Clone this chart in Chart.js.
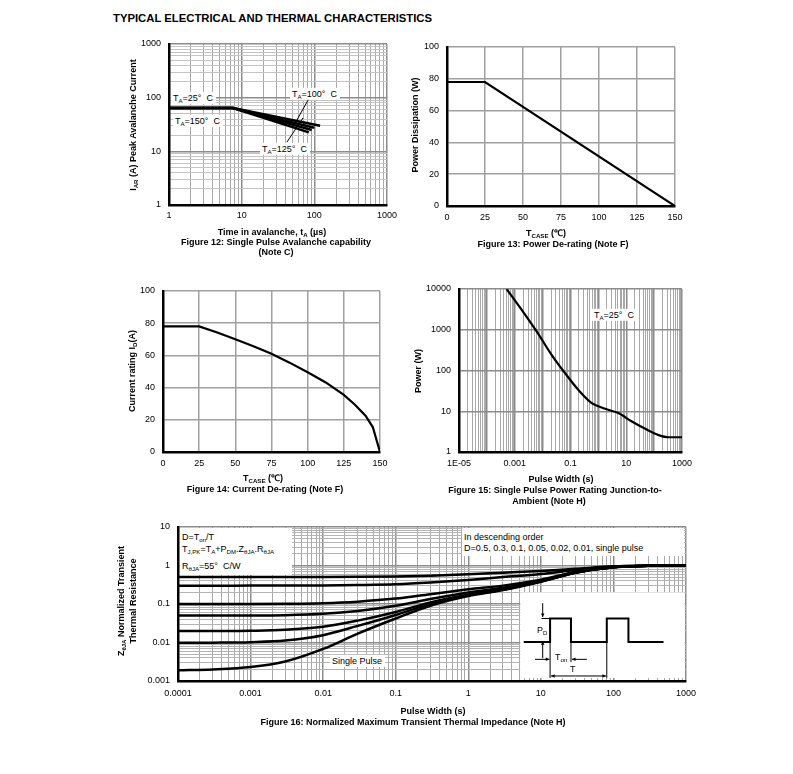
<!DOCTYPE html>
<html><head><meta charset="utf-8">
<script src="https://cdn.jsdelivr.net/npm/chart.js@4"></script>
<style>
html,body{margin:0;padding:0;background:#fff;}
body{width:793px;height:774px;position:relative;overflow:hidden;font-family:"Liberation Sans",Arial,sans-serif;color:#000;}
canvas{position:absolute;}
.tx{position:absolute;white-space:nowrap;line-height:1.15;}
.bx{position:absolute;background:#fff;}
sub{font-size:0.68em;vertical-align:-0.3em;line-height:0;}
</style></head><body>
<script>
// ---------------- DATA ----------------
// Figure 12: Single Pulse Avalanche capability
const avTime25 = [1, 7.6, 120];
const avCur25 = [64, 64, 30];
const avTime100 = [1, 7.6, 100];
const avCur100 = [64, 64, 27.5];
const avTime125 = [1, 7.6, 92];
const avCur125 = [64, 64, 25];
const avTime150 = [1, 7.6, 84];
const avCur150 = [64, 64, 22.5];
const avXTicks = [1, 10, 100, 1000];
const avXLabels = ['1', '10', '100', '1000'];
const avYTicks = [1, 10, 100, 1000];
const avYLabels = ['1', '10', '100', '1000'];

// Figure 13: Power De-rating
const pdTemp = [0, 25, 150];
const pdPower = [78, 78, 0];
const pdXTicks = [0, 25, 50, 75, 100, 125, 150];
const pdXLabels = ['0', '25', '50', '75', '100', '125', '150'];
const pdYTicks = [0, 20, 40, 60, 80, 100];
const pdYLabels = ['0', '20', '40', '60', '80', '100'];

// Figure 14: Current De-rating
const idTemp = [0, 25, 37.5, 50, 62.5, 75, 87.5, 100, 112.5, 125, 132.5, 140, 145, 150];
const idCurrent = [78, 78, 74.2, 70, 65.7, 61, 55.5, 49.5, 43.2, 35.5, 29.5, 22.5, 15.5, 0];
const idXTicks = [0, 25, 50, 75, 100, 125, 150];
const idXLabels = ['0', '25', '50', '75', '100', '125', '150'];
const idYTicks = [0, 20, 40, 60, 80, 100];
const idYLabels = ['0', '20', '40', '60', '80', '100'];

// Figure 15: Single Pulse Power Rating
const ppWidth = [5.1e-4, 1.76e-3, 6.1e-3, 0.021, 0.063, 0.19, 0.58, 1.74, 5.2, 15.9, 48, 145, 330, 1000];
const ppPower = [10000, 3100, 910, 243, 87, 33.6, 15.8, 11.5, 9.0, 5.6, 3.7, 2.6, 2.3, 2.3];
const ppXTicks = [1e-5, 1e-3, 0.1, 10, 1000];
const ppXLabels = ['1E-05', '0.001', '0.1', '10', '1000'];
const ppYTicks = [1, 10, 100, 1000, 10000];
const ppYLabels = ['1', '10', '100', '1000', '10000'];

// Figure 16: Normalized Maximum Transient Thermal Impedance
const ztWidth = [1e-4, 3e-4, 1e-3, 3e-3, 0.01, 0.03, 0.1, 0.3, 1, 3, 10, 30, 100, 300, 1000];
const ztD05 = [0.5, 0.5, 0.5, 0.501, 0.503, 0.508, 0.52, 0.545, 0.59, 0.65, 0.72, 0.82, 0.95, 0.99, 1.0];
const ztD03 = [0.3, 0.3, 0.3002, 0.301, 0.304, 0.311, 0.325, 0.36, 0.42, 0.5, 0.6, 0.76, 0.93, 0.985, 1.0];
const ztD01 = [0.1, 0.1, 0.1002, 0.1013, 0.105, 0.115, 0.138, 0.18, 0.24, 0.3, 0.43, 0.68, 0.91, 0.98, 1.0];
const ztD005 = [0.05, 0.05, 0.0502, 0.0513, 0.0556, 0.066, 0.09, 0.135, 0.2, 0.265, 0.405, 0.665, 0.905, 0.98, 1.0];
const ztD002 = [0.0198, 0.0199, 0.0202, 0.0213, 0.0255, 0.037, 0.062, 0.11, 0.177, 0.245, 0.39, 0.655, 0.9, 0.98, 1.0];
const ztD001 = [0.0098, 0.0099, 0.0102, 0.0112, 0.0155, 0.027, 0.052, 0.10, 0.168, 0.235, 0.385, 0.65, 0.9, 0.98, 1.0];
const ztSingle = [0.0019, 0.0020, 0.0023, 0.0032, 0.0068, 0.017, 0.042, 0.09, 0.16, 0.23, 0.38, 0.65, 0.9, 0.98, 1.0];
const ztXTicks = [1e-4, 1e-3, 0.01, 0.1, 1, 10, 100, 1000];
const ztXLabels = ['0.0001', '0.001', '0.01', '0.1', '1', '10', '100', '1000'];
const ztYTicks = [0.001, 0.01, 0.1, 1, 10];
const ztYLabels = ['0.001', '0.01', '0.1', '1', '10'];

// ---------------- HELPERS ----------------
Chart.defaults.font.family = '"Liberation Sans", Arial, sans-serif';
Chart.defaults.font.size = 9;
Chart.defaults.color = '#000';
Chart.defaults.animation = false;

const YW = 50, PADL = 0, PADT = 8, PADR = 20, XH = 24, PADB = 2;

const isDecade = v => v > 0 && Math.abs(Math.log10(v) - Math.round(Math.log10(v))) < 1e-6;
function logGrid(min, max) {
  const out = [];
  const e0 = Math.round(Math.log10(min)), e1 = Math.round(Math.log10(max));
  for (let e = e0; e < e1; e++) for (let m = 1; m < 10; m++) out.push(m * Math.pow(10, e));
  out.push(max);
  return out;
}
function labelFor(v, vals, labs) {
  for (let i = 0; i < vals.length; i++) if (Math.abs(v - vals[i]) <= Math.abs(vals[i]) * 1e-6 + 1e-12) return labs[i];
  return '';
}
function pts(xs, ys) { return xs.map((x, i) => ({ x: x, y: ys[i] })); }

function scale(o) {
  const gridVals = o.type === 'logarithmic' ? logGrid(o.min, o.max) : o.vals;
  return {
    type: o.type, min: o.min, max: o.max,
    border: { display: true, color: '#000', width: 2.5 },
    grid: {
      drawTicks: false,
      color: ctx => (o.type !== 'logarithmic' || (ctx.tick && isDecade(ctx.tick.value))) ? (o.major || '#8c8c8c') : (o.minor || '#b0b0b0'),
      lineWidth: ctx => (o.type !== 'logarithmic' || (ctx.tick && isDecade(ctx.tick.value))) ? 1.5 : 1
    },
    ticks: {
      autoSkip: false, maxRotation: 0, minRotation: 0, padding: o.pad,
      font: { size: 9 },
      callback: v => labelFor(v, o.vals, o.labs)
    },
    afterBuildTicks: sc => { sc.ticks = gridVals.map(v => ({ value: v, major: isDecade(v) })); },
    afterFit: sc => {
      if (o.axis === 'x') { sc.height = XH; sc.paddingLeft = 0; sc.paddingRight = 0; }
      else { sc.width = YW; sc.paddingTop = 0; sc.paddingBottom = 0; }
    }
  };
}

function makeChart(area, datasets, xs, ys, plugins) {
  const cv = document.createElement('canvas');
  const L = area.l - YW - PADL, T = area.t - PADT;
  const W = area.r - area.l + YW + PADL + PADR, H = area.b - area.t + PADT + XH + PADB;
  cv.width = W; cv.height = H;
  cv.style.left = L + 'px'; cv.style.top = T + 'px';
  cv.style.width = W + 'px'; cv.style.height = H + 'px';
  document.body.appendChild(cv);
  return new Chart(cv, {
    type: 'line',
    data: { datasets: datasets },
    options: {
      responsive: false, maintainAspectRatio: false, animation: false,
      layout: { padding: { left: PADL, top: PADT, right: PADR, bottom: PADB } },
      plugins: { legend: { display: false }, tooltip: { enabled: false } },
      elements: { point: { radius: 0 } },
      scales: { x: xs, y: ys }
    },
    plugins: plugins || []
  });
}
function ds(data, w, smooth) {
  return { data: data, borderColor: '#000', borderWidth: w || 2.5, pointRadius: 0, fill: false,
           cubicInterpolationMode: smooth ? 'monotone' : 'default', tension: 0 };
}

function addText(html, x, y, o) {
  o = o || {};
  const d = document.createElement('div');
  d.className = 'tx';
  d.innerHTML = html;
  d.style.left = x + 'px'; d.style.top = y + 'px';
  d.style.fontSize = (o.size || 9) + 'px';
  if (o.bold) d.style.fontWeight = 'bold';
  let tf = o.align === 'c' ? 'translate(-50%,-50%)' : 'translate(0,-50%)';
  if (o.rot) tf = 'translate(-50%,-50%) rotate(-90deg)';
  d.style.transform = tf;
  if (o.bg) { d.style.background = '#fff'; d.style.padding = '1px 3px 1px 2px'; }
  document.body.appendChild(d);
}
function addBox(x1, y1, x2, y2) {
  const d = document.createElement('div');
  d.className = 'bx';
  d.style.left = x1 + 'px'; d.style.top = y1 + 'px';
  d.style.width = (x2 - x1) + 'px'; d.style.height = (y2 - y1) + 'px';
  document.body.appendChild(d);
}
function arrow(ctx, x1, y1, x2, y2, s) {
  s = s || 4;
  ctx.beginPath(); ctx.moveTo(x1, y1); ctx.lineTo(x2, y2); ctx.stroke();
  const a = Math.atan2(y2 - y1, x2 - x1);
  ctx.beginPath();
  ctx.moveTo(x2, y2);
  ctx.lineTo(x2 - s * Math.cos(a - 0.45), y2 - s * Math.sin(a - 0.45));
  ctx.lineTo(x2 - s * Math.cos(a + 0.45), y2 - s * Math.sin(a + 0.45));
  ctx.closePath(); ctx.fill();
}

// ---------------- FIGURE 12 ----------------
const A12 = { l: 169, r: 387, t: 44, b: 205 };
const leaders12 = {
  id: 'leaders12',
  afterDatasetsDraw(chart) {
    const { ctx, scales: { x, y } } = chart;
    ctx.save(); ctx.strokeStyle = '#000'; ctx.lineWidth = 1;
    ctx.beginPath();
    ctx.moveTo(x.getPixelForValue(87), y.getPixelForValue(104));
    ctx.lineTo(x.getPixelForValue(51), y.getPixelForValue(28.6));
    ctx.moveTo(x.getPixelForValue(42), y.getPixelForValue(14.9));
    ctx.lineTo(x.getPixelForValue(70), y.getPixelForValue(42));
    ctx.stroke(); ctx.restore();
  }
};
makeChart(A12,
  [ds(pts(avTime150, avCur150)), ds(pts(avTime125, avCur125)), ds(pts(avTime100, avCur100)), ds(pts(avTime25, avCur25))],
  scale({ axis: 'x', type: 'logarithmic', min: 1, max: 1000, vals: avXTicks, labs: avXLabels, pad: 5, minor: '#a8a8a8' }),
  scale({ axis: 'y', type: 'logarithmic', min: 1, max: 1000, vals: avYTicks, labs: avYLabels, pad: 8, minor: '#c4c4c4' }),
  [leaders12]);

// ---------------- FIGURE 13 ----------------
const A13 = { l: 447, r: 675, t: 47, b: 206 };
makeChart(A13,
  [ds(pts(pdTemp, pdPower), 2.2)],
  scale({ axis: 'x', type: 'linear', min: 0, max: 150, vals: pdXTicks, labs: pdXLabels, pad: 6, major: '#a0a0a0' }),
  scale({ axis: 'y', type: 'linear', min: 0, max: 100, vals: pdYTicks, labs: pdYLabels, pad: 8, major: '#a0a0a0' }));

// ---------------- FIGURE 14 ----------------
const A14 = { l: 163, r: 380, t: 291, b: 452 };
makeChart(A14,
  [ds(pts(idTemp, idCurrent), 2.2)],
  scale({ axis: 'x', type: 'linear', min: 0, max: 150, vals: idXTicks, labs: idXLabels, pad: 6, major: '#a0a0a0' }),
  scale({ axis: 'y', type: 'linear', min: 0, max: 100, vals: idYTicks, labs: idYLabels, pad: 8, major: '#a0a0a0' }));

// ---------------- FIGURE 15 ----------------
const A15 = { l: 459, r: 682, t: 289, b: 452 };
makeChart(A15,
  [ds(pts(ppWidth, ppPower), 2.2, true)],
  scale({ axis: 'x', type: 'logarithmic', min: 1e-5, max: 1000, vals: ppXTicks, labs: ppXLabels, pad: 6, minor: '#a8a8a8' }),
  scale({ axis: 'y', type: 'logarithmic', min: 1, max: 10000, vals: ppYTicks, labs: ppYLabels, pad: 8, minor: 'rgba(0,0,0,0)' }));

// ---------------- FIGURE 16 ----------------
const A16 = { l: 178, r: 686, t: 527, b: 681 };
const inset16 = {
  id: 'inset16',
  afterDatasetsDraw(chart) {
    const { ctx, scales: { x, y } } = chart;
    const X = v => x.getPixelForValue(v), Y = v => y.getPixelForValue(v);
    ctx.save();
    ctx.fillStyle = '#fff';
    ctx.fillRect(X(5.2), Y(0.2), X(960) - X(5.2), Y(0.0012) - Y(0.2));
    ctx.strokeStyle = '#000'; ctx.fillStyle = '#000';
    // pulse train
    ctx.lineWidth = 2;
    ctx.beginPath();
    ctx.moveTo(X(5.8), Y(0.0103)); ctx.lineTo(X(13.4), Y(0.0103)); ctx.lineTo(X(13.4), Y(0.042));
    ctx.lineTo(X(26), Y(0.042)); ctx.lineTo(X(26), Y(0.0103)); ctx.lineTo(X(81), Y(0.0103));
    ctx.lineTo(X(81), Y(0.042)); ctx.lineTo(X(161), Y(0.042)); ctx.lineTo(X(161), Y(0.0103));
    ctx.lineTo(X(490), Y(0.0103));
    ctx.stroke();
    // markers
    ctx.lineWidth = 1;
    ctx.beginPath();
    ctx.moveTo(X(10.2), Y(0.042)); ctx.lineTo(X(13.4), Y(0.042));
    ctx.moveTo(X(13.4), Y(0.0103)); ctx.lineTo(X(13.4), Y(0.0012));
    ctx.moveTo(X(81), Y(0.0103)); ctx.lineTo(X(81), Y(0.0012));
    ctx.moveTo(X(26), Y(0.0103)); ctx.lineTo(X(26), Y(0.0031));
    ctx.stroke();
    arrow(ctx, X(10.6), Y(0.105), X(10.6), Y(0.046));
    arrow(ctx, X(10.6), Y(0.0039), X(10.6), Y(0.0108));
    arrow(ctx, X(8.3), Y(0.00365), X(13.1), Y(0.00365));
    arrow(ctx, X(43), Y(0.00365), X(26.8), Y(0.00365));
    arrow(ctx, X(30), Y(0.00135), X(13.8), Y(0.00135));
    arrow(ctx, X(30), Y(0.00135), X(79), Y(0.00135));
    ctx.restore();
  }
};
makeChart(A16,
  [ds(pts(ztWidth, ztD05), 2.5, true), ds(pts(ztWidth, ztD03), 2.5, true), ds(pts(ztWidth, ztD01), 2.5, true),
   ds(pts(ztWidth, ztD005), 2.5, true), ds(pts(ztWidth, ztD002), 2.5, true), ds(pts(ztWidth, ztD001), 2.5, true),
   ds(pts(ztWidth, ztSingle), 2.5, true)],
  scale({ axis: 'x', type: 'logarithmic', min: 1e-4, max: 1000, vals: ztXTicks, labs: ztXLabels, pad: 7, minor: '#a8a8a8' }),
  scale({ axis: 'y', type: 'logarithmic', min: 0.001, max: 10, vals: ztYTicks, labs: ztYLabels, pad: 8, minor: '#b4b4b4' }),
  [inset16]);

// ---------------- TEXT ----------------
addText('TYPICAL ELECTRICAL AND THERMAL CHARACTERISTICS', 113, 18, { size: 11.3, bold: true });

// Fig 12
addText('I<sub>AR</sub> (A) Peak Avalanche Current', 133, 125, { rot: true, bold: true, size: 9 });
addText('Time in avalanche, t<sub>A</sub> (µs)', 272, 232, { align: 'c', bold: true, size: 9 });
addText('Figure 12: Single Pulse Avalanche capability', 276, 242, { align: 'c', bold: true, size: 9 });
addText('(Note C)', 276, 252, { align: 'c', bold: true, size: 9 });
addText('T<sub>A</sub>=25°&nbsp; C', 171, 98, { bg: true });
addText('T<sub>A</sub>=150°&nbsp; C', 173, 121, { bg: true });
addText('T<sub>A</sub>=100°&nbsp; C', 290, 94, { bg: true });
addText('T<sub>A</sub>=125°&nbsp; C', 260, 149, { bg: true });

// Fig 13
addText('Power Dissipation (W)', 415, 125, { rot: true, bold: true, size: 9 });
addText('T<sub>CASE</sub> (℃)', 546, 233, { align: 'c', bold: true, size: 9 });
addText('Figure 13: Power De-rating (Note F)', 553, 244, { align: 'c', bold: true, size: 9 });

// Fig 14
addText('Current rating I<sub>D</sub>(A)', 132, 371, { rot: true, bold: true, size: 9 });
addText('T<sub>CASE</sub> (℃)', 263, 478, { align: 'c', bold: true, size: 9 });
addText('Figure 14: Current De-rating (Note F)', 265, 489, { align: 'c', bold: true, size: 9 });

// Fig 15
addText('Power (W)', 418, 371, { rot: true, bold: true, size: 9 });
addText('Pulse Width (s)', 561, 479, { align: 'c', bold: true, size: 9 });
addText('Figure 15: Single Pulse Power Rating Junction-to-', 555, 490, { align: 'c', bold: true, size: 9 });
addText('Ambient (Note H)', 549, 501, { align: 'c', bold: true, size: 9 });
addText('T<sub>A</sub>=25°&nbsp; C', 592, 315, { bg: true });

// Fig 16
addText('Z<sub>θJA</sub> Normalized Transient', 121, 601, { rot: true, bold: true, size: 9 });
addText('Thermal Resistance', 133, 601, { rot: true, bold: true, size: 9 });
addText('Pulse Width (s)', 433, 711, { align: 'c', bold: true, size: 9 });
addText('Figure 16: Normalized Maximum Transient Thermal Impedance (Note H)', 413, 722, { align: 'c', bold: true, size: 9 });
addBox(180, 528, 292, 575);
addText('D=T<sub>on</sub>/T', 182, 537, { size: 9 });
addText('T<sub>J,PK</sub>=T<sub>A</sub>+P<sub>DM</sub>.Z<sub>θJA</sub>.R<sub>θJA</sub>', 182, 549, { size: 9 });
addText('R<sub>θJA</sub>=55°&nbsp; C/W', 182, 566, { size: 9 });
addBox(462, 528, 684, 556);
addText('In descending order', 464, 537, { size: 9 });
addText('D=0.5, 0.3, 0.1, 0.05, 0.02, 0.01, single pulse', 464, 548, { size: 9 });
addText('Single Pulse', 330, 661, { bg: true });
addText('P<sub>D</sub>', 537, 630, { size: 9 });
addText('T<sub>on</sub>', 555, 657, { size: 9 });
addText('T', 570, 669, { size: 9 });
</script>
</body></html>
